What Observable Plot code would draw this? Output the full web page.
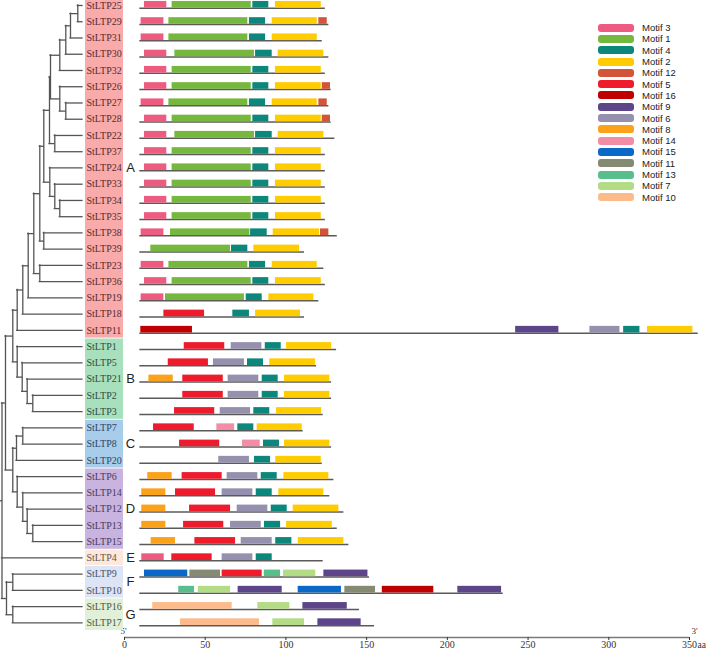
<!DOCTYPE html>
<html><head><meta charset="utf-8">
<script src="https://cdn.jsdelivr.net/npm/d3@7"></script>
<script src="https://cdn.jsdelivr.net/npm/@observablehq/plot@0.6"></script>
<style>
body{margin:0;background:#fff;}
#wrap{position:relative;width:709px;height:650px;overflow:hidden;background:#fff;}
#wrap svg{position:absolute;left:0;top:0;}
#legend{position:absolute;left:598px;top:22px;font-family:"Liberation Sans",Arial,sans-serif;font-size:9.5px;color:#222;}
.lg{display:flex;align-items:center;height:11.3px;white-space:nowrap;}
.sw{width:36px;height:8px;border-radius:3px;margin-right:8px;flex:none;}
</style></head><body><div id="wrap"></div>
<script>
// ---------- data ----------
const proteins = ["StLTP25","StLTP29","StLTP31","StLTP30","StLTP32","StLTP26","StLTP27","StLTP28","StLTP22","StLTP37",
  "StLTP24","StLTP33","StLTP34","StLTP35","StLTP38","StLTP39","StLTP23","StLTP36","StLTP19","StLTP18",
  "StLTP11","StLTP1","StLTP5","StLTP21","StLTP2","StLTP3","StLTP7","StLTP8","StLTP20","StLTP6",
  "StLTP14","StLTP12","StLTP13","StLTP15","StLTP4","StLTP9","StLTP10","StLTP16","StLTP17"];
const proteinStart = 9.5;
const proteinEnds = [124.4,126.6,122.5,126.6,124.4,128,126.6,128,130.3,124.4,
  124.4,124.4,124.4,124.4,131.8,111.5,123.5,124.4,120.4,111.5,
  355.4,131.4,119,128.3,128.3,123.1,110.7,128.3,122.5,129.7,
  127.2,135.9,131.8,139,123.1,151.8,234.6,145.6,154.9];
// motif hits per protein: "motif:start-end"
const motifLayout = [
  "3:12.4-26.2 1:29.5-78.5 4:79.5-89.4 2:93.5-121.9",
  "3:10.3-24.4 1:27.5-76.4 4:77.4-87.4 2:91.5-119.4 12:120.4-125.6",
  "3:10.3-24.4 1:27.5-76.4 4:77.4-87.4 2:91.5-119.4",
  "3:12.4-26.2 1:31.2-80.5 4:81.2-91.5 2:95.2-123.5",
  "3:12.4-26.2 1:29.5-78.5 4:79.5-89.4 2:93.5-121.9",
  "3:12.4-26.2 1:29.5-78.5 4:79.5-89.4 2:93.5-121.9 12:122.5-127.6",
  "3:10.3-24.4 1:27.5-76.4 4:77.4-87.4 2:91.5-119.4 12:120.4-125.6",
  "3:12.4-26.2 1:29.5-78.5 4:79.5-89.4 2:93.5-121.9 12:122.5-127.6",
  "3:12.4-26.2 1:31.2-80.5 4:81.2-91.5 2:95.2-123.5",
  "3:12.4-26.2 1:29.5-78.5 4:79.5-89.4 2:93.5-121.9",
  "3:12.4-26.2 1:29.5-78.5 4:79.5-89.4 2:93.5-121.9",
  "3:12.4-26.2 1:29.5-78.5 4:79.5-89.4 2:93.5-121.9",
  "3:12.4-26.2 1:29.5-78.5 4:79.5-89.4 2:93.5-121.9",
  "3:12.4-26.2 1:29.5-78.5 4:79.5-89.4 2:93.5-121.9",
  "3:10.3-24.4 1:28.5-77.7 4:78.1-88.4 2:92.1-120.8 12:121.4-126.6",
  "1:16.3-65.7 4:66.3-76.4 2:80.1-108.4",
  "3:10.3-24.4 1:27.5-76.4 4:77.4-87.4 2:91.5-119.4",
  "3:12.4-26.2 1:29.5-78.5 4:79.5-89.4 2:93.5-121.9",
  "3:10.3-24.4 1:25.4-74.3 4:75.4-85.3 2:89.4-117.3",
  "5:24.4-49.6 4:67.1-77.4 2:81.2-109",
  "16:10.1-42.1 9:242.3-269.1 6:288.3-306.9 4:309.2-319.3 2:324-352.1",
  "5:37-62.1 6:66.1-85.1 4:87.2-97.1 2:100.4-128.3",
  "5:27.1-52 6:55.1-74.3 4:76.2-86.1 2:90-118.3",
  "8:15.1-30.2 5:36.1-61.2 6:64.2-83.2 4:85.3-95.2 2:99.1-127.2",
  "5:36.1-61.2 6:64.2-83.2 4:85.3-95.2 2:99.1-127.2",
  "5:31-55.9 6:59.3-78.1 4:80.1-90 2:94.2-122.1",
  "5:18-43.2 14:57.2-68.2 4:70.2-80.1 2:82.2-110.1",
  "5:34.1-59 14:73.1-84.1 4:86.1-96 2:99.1-127.2",
  "6:58.4-77.4 4:80.5-90.5 2:93.7-121.9",
  "8:14.4-29.5 5:35.7-60.5 6:63.6-82.6 4:84.7-94.6 2:98.7-126.6",
  "8:10.7-25.6 5:31.6-56.4 6:60.5-79.5 4:81.6-91.5 2:95.6-123.5",
  "8:10.7-25.6 5:40.3-65.7 6:69.8-88.8 4:90.9-100.8 2:104.5-132.8",
  "8:10.7-25.6 5:36.6-61.5 6:65.7-84.7 4:86.7-96.7 2:100.4-128.7",
  "8:16.5-31.6 5:43.6-68.8 6:72.3-91.5 4:93.7-103.7 2:107.6-135.9",
  "3:10.7-24.6 5:29.3-54.3 6:60.5-79.5 4:81.6-91.5",
  "15:12.4-39.2 11:40.5-59.5 5:60.5-85.3 13:86.6-96.7 7:98.5-118.5 9:123.5-150.8",
  "13:33.6-43.4 7:45.7-65.7 9:70.4-97.7 15:107.6-134.4 11:136.5-155.5 16:159.7-191.6 9:206.5-233.6",
  "10:17.5-66.7 7:82.6-102.4 9:110.5-138",
  "10:34.7-83.6 7:91.9-111.5 9:119.8-146.6"
];
const motifNames = ["Motif 3","Motif 1","Motif 4","Motif 2","Motif 12","Motif 5","Motif 16","Motif 9",
  "Motif 6","Motif 8","Motif 14","Motif 15","Motif 11","Motif 13","Motif 7","Motif 10"];
const motifColors = ["#EE5B80","#76B73D","#0B877B","#FFCC00","#D2553A","#EE1B2C","#C00000","#5C4588",
  "#9690AF","#FBA11A","#F28DA6","#0A68C8","#858A72","#58BF8C","#B4DB86","#FDBB8B"];
const groupNames = ["A","B","C","D","E","F","G"];
const groupSizes = [21,5,3,5,1,2,2];
const groupFills = ["#F9AAAA","#A8E0BE","#A8CDEB","#C8B4DE","#FCE8DC","#DCE4F5","#E2F0DA"];
const groupInk = ["#5a2b2b","#2f4a3c","#2f4560","#4a3a5c","#6a5545","#4a5268","#4a5a42"];
const axisTicks = [0,50,100,150,200,250,300,350];
// dendrogram: [node depth, ...children]; leaves are names
const cladeA = [16.7, [22.3, [27.7, [33.3, [39.3, [43.3, [49,
  [50, [59.3, [65.3, [70, [77.3, "StLTP25", "StLTP29"], "StLTP31"], "StLTP30"], "StLTP32"],
       [59.3, "StLTP26", [65.3, "StLTP27", "StLTP28"]]],
  [54.3, "StLTP22", "StLTP37"]],
  [49.3, "StLTP24", [54.3, "StLTP33", [59.3, "StLTP34", "StLTP35"]]]],
  [43.3, "StLTP38", "StLTP39"]],
  [39.3, "StLTP23", "StLTP36"]],
  "StLTP19"], "StLTP18"], "StLTP11"];
const cladeB = [16.7, "StLTP1", [21.7, "StLTP5", [26.7, "StLTP21", [32.3, "StLTP2", "StLTP3"]]]];
const cladeC = [16, [22.3, "StLTP7", "StLTP8"], "StLTP20"];
const cladeD = [16.7, "StLTP6", [22.3, "StLTP14", [26.7, "StLTP12", [32.3, "StLTP13", "StLTP15"]]]];
const cladeFG = [6, [12.3, "StLTP9", "StLTP10"], [12.3, "StLTP16", "StLTP17"]];
const treeData = [1.5, [5, [12.3, cladeA, cladeB], [12.3, cladeC, cladeD]], "StLTP4", cladeFG];
const leafDepth = 82;

// ---------- derived tables ----------
const rowOf = new Map(proteins.map((p, i) => [p, i]));
const backbones = proteins.map((p, i) => ({row: i, start: proteinStart, end: proteinEnds[i]}));
const motifRows = motifLayout.flatMap((s, i) => s.split(" ").map(t => {
  const [m, r] = t.split(":"); const [a, b] = r.split("-").map(Number);
  return {row: i, motif: "Motif " + m, start: a, end: b};
}));
let acc = 0;
const groupSpans = groupNames.map((g, k) => {
  const first = acc; acc += groupSizes[k];
  return {name: g, first, last: acc - 1, fill: groupFills[k], ink: groupInk[k]};
});
const inkOfRow = proteins.map((p, i) => groupSpans.find(g => i >= g.first && i <= g.last).ink);

const vSegs = [], hSegs = [];
function layout(node) {
  if (typeof node === "string") return {x: leafDepth, y: rowOf.get(node)};
  const [depth, ...kids] = node;
  const ch = kids.map(layout);
  const y = (ch[0].y + ch[ch.length - 1].y) / 2;
  vSegs.push({x: depth, y1: ch[0].y, y2: ch[ch.length - 1].y});
  ch.forEach(c => hSegs.push({y: c.y, x1: depth, x2: c.x}));
  return {x: depth, y};
}
const root = layout(treeData);
hSegs.push({y: root.y, x1: 0, x2: root.x});

// ---------- plots ----------
const yMax = 38.9;
const serif = "Liberation Serif, Times New Roman, serif";
const mainPlot = Plot.plot({
  width: 709, height: 650,
  marginLeft: 124, marginRight: 20, marginTop: 5, marginBottom: 13,
  x: {domain: [0, 350]},
  y: {domain: [0, yMax], reverse: true, axis: null},
  color: {domain: motifNames, range: motifColors},
  style: {background: "transparent", overflow: "visible", fontFamily: serif, fontSize: "10px", color: "#333"},
  marks: [
    Plot.ruleY(backbones, {y: "row", x1: "start", x2: "end", dy: 2.8, stroke: "#5a5a5a", strokeWidth: 1.6}),
    Plot.rect(motifRows, {x1: "start", x2: "end", y1: d => d.row - 0.25, y2: d => d.row + 0.16, fill: "motif"}),
    Plot.ruleY([yMax], {stroke: "#7a7a7a", strokeWidth: 1.4}),
    Plot.axisX({ticks: axisTicks, tickSize: 3, tickPadding: 0, fontFamily: serif, fontSize: 10}),
    Plot.text(["5'"], {x: 0, y: yMax, dy: -6, dx: -1, text: d => d, fontFamily: serif, fontSize: 9}),
    Plot.text(["3'"], {x: 350, y: yMax, dy: -6, dx: 5, text: d => d, fontFamily: serif, fontSize: 9}),
    Plot.text(["aa"], {x: 350, y: yMax, dy: 7.5, dx: 8, textAnchor: "start", text: d => d, fontFamily: serif, fontSize: 9.5})
  ]
});

const treePlot = Plot.plot({
  width: 140, height: 650,
  marginLeft: 0, marginRight: 0, marginTop: 5, marginBottom: 13,
  x: {domain: [0, 140], range: [0, 140], axis: null},
  y: {domain: [0, yMax], reverse: true, axis: null},
  color: {type: "identity"},
  style: {background: "transparent", overflow: "visible"},
  marks: [
    Plot.rect(groupSpans, {x1: 85, x2: 123, y1: d => Math.max(d.first - 0.47, -0.31), y2: d => d.last + 0.47, fill: "fill"}),
    Plot.ruleX(vSegs, {x: "x", y1: "y1", y2: "y2", stroke: "#555", strokeWidth: 1.3, strokeLinecap: "square"}),
    Plot.ruleY(hSegs, {y: "y", x1: "x1", x2: "x2", stroke: "#555", strokeWidth: 1.3, strokeLinecap: "square"}),
    Plot.text(proteins, {x: 86, y: (d, i) => i, text: d => d, textAnchor: "start", fill: (d, i) => inkOfRow[i],
      fontFamily: serif, fontSize: 10}),
    Plot.text(groupSpans, {x: 130, y: d => (d.first + d.last) / 2, text: "name", fill: "#222",
      fontFamily: "Liberation Sans, Arial, sans-serif", fontSize: 13})
  ]
});

const wrap = document.getElementById("wrap");
wrap.appendChild(mainPlot);
wrap.appendChild(treePlot);

const legend = d3.select(wrap).append("div").attr("id", "legend");
const rows = legend.selectAll("div").data(motifNames).join("div").attr("class", "lg");
rows.append("span").attr("class", "sw").style("background", (d, i) => motifColors[i]);
rows.append("span").text(d => d);
</script></body></html>
